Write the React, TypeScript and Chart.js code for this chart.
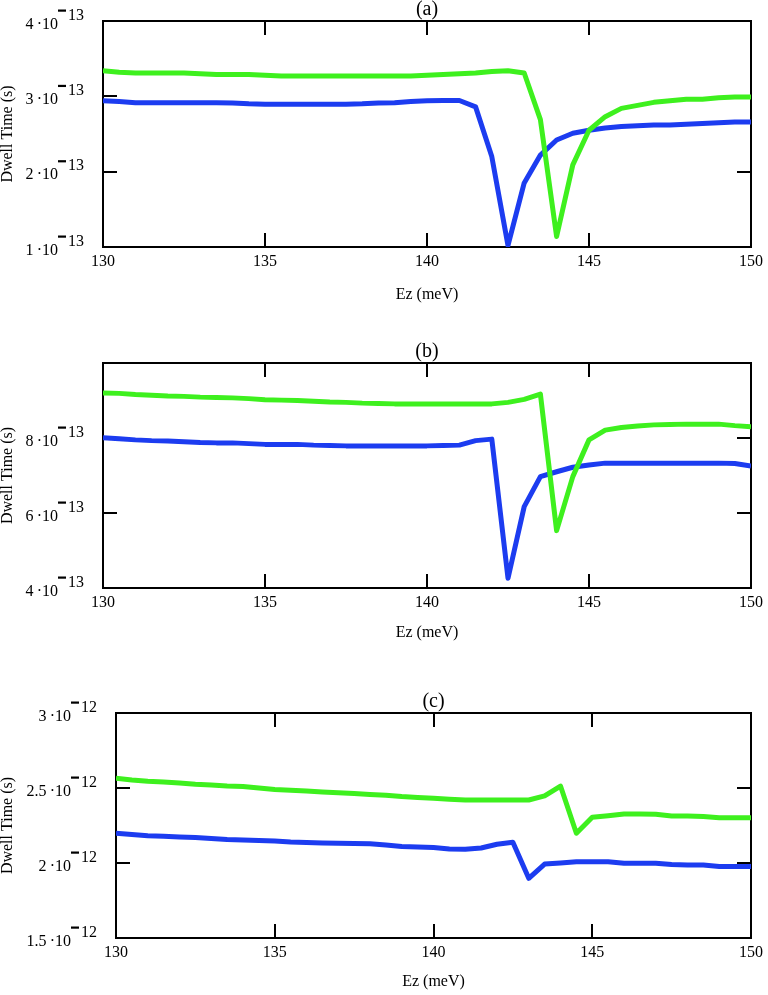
import React, { useEffect, useRef } from "react";
import { Chart, registerables } from "chart.js";

Chart.register(...registerables);

// Ez (meV)
const ez = [
  130, 130.5, 131, 131.5, 132, 132.5, 133, 133.5, 134, 134.5,
  135, 135.5, 136, 136.5, 137, 137.5, 138, 138.5, 139, 139.5,
  140, 140.5, 141, 141.5, 142, 142.5, 143, 143.5, 144, 144.5,
  145, 145.5, 146, 146.5, 147, 147.5, 148, 148.5, 149, 149.5, 150,
];

// Panel (a), dwell time in units of 1e-13 s
const aBlue = [
  2.94, 2.93, 2.915, 2.915, 2.915, 2.915, 2.915, 2.915, 2.91, 2.9,
  2.895, 2.895, 2.895, 2.895, 2.895, 2.895, 2.9, 2.91, 2.915, 2.93,
  2.94, 2.945, 2.945, 2.86, 2.2, 1.02, 1.85, 2.22, 2.42, 2.51,
  2.55, 2.58, 2.6, 2.61, 2.62, 2.62, 2.63, 2.64, 2.65, 2.66, 2.66,
];
const aGreen = [
  3.34, 3.32, 3.31, 3.31, 3.31, 3.31, 3.3, 3.29, 3.29, 3.29,
  3.28, 3.27, 3.27, 3.27, 3.27, 3.27, 3.27, 3.27, 3.27, 3.27,
  3.28, 3.29, 3.3, 3.31, 3.33, 3.34, 3.31, 2.69, 1.14, 2.09,
  2.55, 2.73, 2.84, 2.88, 2.92, 2.94, 2.96, 2.96, 2.98, 2.99, 2.99,
];

// Panel (b), units of 1e-13 s
const bBlue = [
  8.01, 7.98, 7.95, 7.93, 7.92, 7.9, 7.88, 7.87, 7.87, 7.85,
  7.83, 7.83, 7.83, 7.81, 7.8, 7.79, 7.79, 7.79, 7.79, 7.79,
  7.79, 7.8, 7.81, 7.93, 7.97, 4.26, 6.17, 6.97, 7.1, 7.22,
  7.28, 7.33, 7.33, 7.33, 7.33, 7.33, 7.33, 7.33, 7.33, 7.32, 7.25,
];
const bGreen = [
  9.2, 9.19, 9.16, 9.14, 9.12, 9.11, 9.09, 9.08, 9.07, 9.05,
  9.02, 9.01, 9.0, 8.98, 8.96, 8.95, 8.93, 8.92, 8.91, 8.91,
  8.91, 8.91, 8.91, 8.91, 8.91, 8.95, 9.03, 9.17, 5.53, 6.97,
  7.95, 8.21, 8.28, 8.32, 8.35, 8.36, 8.37, 8.37, 8.37, 8.33, 8.3,
];

// Panel (c), units of 1e-12 s
const cBlue = [
  2.198, 2.19, 2.182, 2.178, 2.174, 2.17, 2.163, 2.156, 2.153, 2.15,
  2.146, 2.14, 2.137, 2.134, 2.131, 2.13, 2.128, 2.12, 2.11, 2.107,
  2.104, 2.093, 2.091, 2.1, 2.125, 2.138, 1.898, 1.993, 2.0, 2.009,
  2.009, 2.009, 1.998, 1.998, 1.998, 1.99, 1.987, 1.987, 1.977, 1.976, 1.976,
];
const cGreen = [
  2.565, 2.553, 2.545, 2.54, 2.533, 2.525, 2.52, 2.513, 2.51, 2.5,
  2.49, 2.485, 2.48, 2.473, 2.468, 2.463, 2.457, 2.452, 2.443, 2.437,
  2.432, 2.425, 2.42, 2.42, 2.42, 2.42, 2.42, 2.447, 2.513, 2.198,
  2.305, 2.315, 2.327, 2.327, 2.325, 2.313, 2.313, 2.31, 2.302, 2.302, 2.302,
];

// tick values / labels
const xTicksInner = [135, 140, 145];
const xTicksInnerC = [135, 140, 145, 150];
const yTicksA = [1, 2, 3, 4];
const yLabelsA = ["1\u2009·10", "2\u2009·10", "3\u2009·10", "4\u2009·10"];
const yInnerA = [2, 3, 4];
const yTicksB = [4, 6, 8];
const yLabelsB = ["4\u2009·10", "6\u2009·10", "8\u2009·10"];
const yInnerB = [6, 8];
const yTicksC = [1.5, 2, 2.5, 3];
const yLabelsC = ["1.5\u2009·10", "2\u2009·10", "2.5\u2009·10", "3\u2009·10"];
const yInnerC = [2, 2.5];

const SERIF = '"Liberation Serif", "Times New Roman", serif';
const BLUE = "#1c3cf0";
const GREEN = "#3ef01e";

type PanelCfg = {
  top: number;
  height: number;
  plotTop: number;
  plotBottom: number;
  plotLeft: number;
  plotRight: number;
  titleCenter: number;
  yMin: number;
  yMax: number;
  blue: number[];
  green: number[];
  yTicks: number[];
  yLabels: string[];
  yInner: number[];
  xInner: number[];
  exp: string;
  panel: string;
};

const panels: PanelCfg[] = [
  {
    top: 0, height: 330, plotTop: 21, plotBottom: 247, plotLeft: 103, plotRight: 752,
    titleCenter: 295, yMin: 1, yMax: 4, blue: aBlue, green: aGreen,
    yTicks: yTicksA, yLabels: yLabelsA, yInner: yInnerA, xInner: xTicksInner, exp: "13", panel: "(a)",
  },
  {
    top: 330, height: 350, plotTop: 363, plotBottom: 588, plotLeft: 103, plotRight: 752,
    titleCenter: 632.5, yMin: 4, yMax: 10, blue: bBlue, green: bGreen,
    yTicks: yTicksB, yLabels: yLabelsB, yInner: yInnerB, xInner: xTicksInner, exp: "13", panel: "(b)",
  },
  {
    top: 680, height: 315, plotTop: 713, plotBottom: 938, plotLeft: 116, plotRight: 752,
    titleCenter: 982, yMin: 1.5, yMax: 3, blue: cBlue, green: cGreen,
    yTicks: yTicksC, yLabels: yLabelsC, yInner: yInnerC, xInner: xTicksInnerC, exp: "12", panel: "(c)",
  },
];

function Panel({ cfg }: { cfg: PanelCfg }) {
  const ref = useRef<HTMLCanvasElement | null>(null);

  useEffect(() => {
    const canvas = ref.current;
    if (!canvas) return;
    const W = 768;
    const H = cfg.height;
    const plotTopRel = cfg.plotTop - cfg.top;
    const plotBottomRel = cfg.plotBottom - cfg.top;
    const xH = H - plotBottomRel;
    const titleLH = 16;
    const titlePadBottom = H - (cfg.titleCenter - cfg.top) - titleLH / 2;

    const decor = {
      id: "decor",
      beforeDatasetsDraw(chart: any) {
        const { ctx, chartArea } = chart;
        const { left, right, top, bottom } = chartArea;
        const xs = chart.scales.x;
        const ys = chart.scales.y;
        ctx.save();
        ctx.strokeStyle = "#000";
        ctx.lineWidth = 2;
        ctx.strokeRect(left, top, right - left, bottom - top);
        ctx.beginPath();
        for (const v of cfg.xInner) {
          const px = Math.round(xs.getPixelForValue(v));
          ctx.moveTo(px, bottom);
          ctx.lineTo(px, bottom - 14);
          ctx.moveTo(px, top);
          ctx.lineTo(px, top + 14);
        }
        for (const v of cfg.yInner) {
          const py = Math.round(ys.getPixelForValue(v));
          ctx.moveTo(left, py);
          ctx.lineTo(left + 14, py);
          ctx.moveTo(right, py);
          ctx.lineTo(right - 14, py);
        }
        ctx.stroke();
        ctx.restore();
      },
      afterDraw(chart: any) {
        const { ctx, chartArea } = chart;
        const { left, right, top } = chartArea;
        const ys = chart.scales.y;
        ctx.save();
        ctx.fillStyle = "#000";
        ctx.font = `16px ${SERIF}`;
        ctx.textBaseline = "middle";
        cfg.yTicks.forEach((v, i) => {
          const py = ys.getPixelForValue(v);
          ctx.textAlign = "right";
          ctx.fillText(cfg.yLabels[i], left - 45, py + 3.5);
          ctx.fillRect(left - 45, py - 11.5, 8, 2.2);
          ctx.textAlign = "left";
          ctx.fillText(cfg.exp, left - 35, py - 5.5);
        });
        ctx.font = `20px ${SERIF}`;
        ctx.textAlign = "center";
        ctx.fillText(cfg.panel, (left + right) / 2, top - 11.5);
        ctx.restore();
      },
    };

    const chart = new Chart(canvas, {
      type: "line",
      data: {
        datasets: [
          {
            label: "green",
            data: ez.map((x, i) => ({ x, y: cfg.green[i] })),
            borderColor: GREEN,
            borderWidth: 5,
            pointRadius: 0,
            tension: 0,
            borderJoinStyle: "round",
          },
          {
            label: "blue",
            data: ez.map((x, i) => ({ x, y: cfg.blue[i] })),
            borderColor: BLUE,
            borderWidth: 5,
            pointRadius: 0,
            tension: 0,
            borderJoinStyle: "round",
          },
        ],
      },
      options: {
        animation: false,
        responsive: false,
        devicePixelRatio: 1,
        layout: { padding: { top: plotTopRel, right: W - cfg.plotRight, bottom: 0, left: 0 } },
        plugins: { legend: { display: false }, tooltip: { enabled: false }, title: { display: false } },
        scales: {
          x: {
            type: "linear",
            min: 130,
            max: 150,
            ticks: {
              stepSize: 5,
              color: "#000",
              font: { family: SERIF, size: 16 },
              padding: 5,
              maxRotation: 0,
              autoSkip: false,
            },
            grid: { display: false, drawTicks: false },
            border: { display: false },
            title: {
              display: true,
              text: "Ez (meV)",
              color: "#000",
              font: { family: SERIF, size: 16, lineHeight: 1 },
              padding: { top: 0, bottom: titlePadBottom },
            },
            afterFit: (s: any) => {
              s.height = xH;
            },
          },
          y: {
            type: "linear",
            min: cfg.yMin,
            max: cfg.yMax,
            ticks: { display: false },
            grid: { display: false, drawTicks: false },
            border: { display: false },
            title: {
              display: true,
              text: "Dwell Time (s)",
              color: "#000",
              font: { family: SERIF, size: 16, lineHeight: 1 },
              padding: { top: 0, bottom: 0 },
            },
            afterFit: (s: any) => {
              s.width = cfg.plotLeft;
            },
          },
        },
      },
      plugins: [decor],
    } as any);

    return () => chart.destroy();
  }, [cfg]);

  return (
    <canvas
      ref={ref}
      width={768}
      height={cfg.height}
      style={{ position: "absolute", left: 0, top: cfg.top, display: "block" }}
    />
  );
}

export default function App() {
  return (
    <div style={{ position: "absolute", left: 0, top: 0, width: 768, height: 995, background: "#fff" }}>
      {panels.map((p) => (
        <Panel key={p.panel} cfg={p} />
      ))}
    </div>
  );
}
